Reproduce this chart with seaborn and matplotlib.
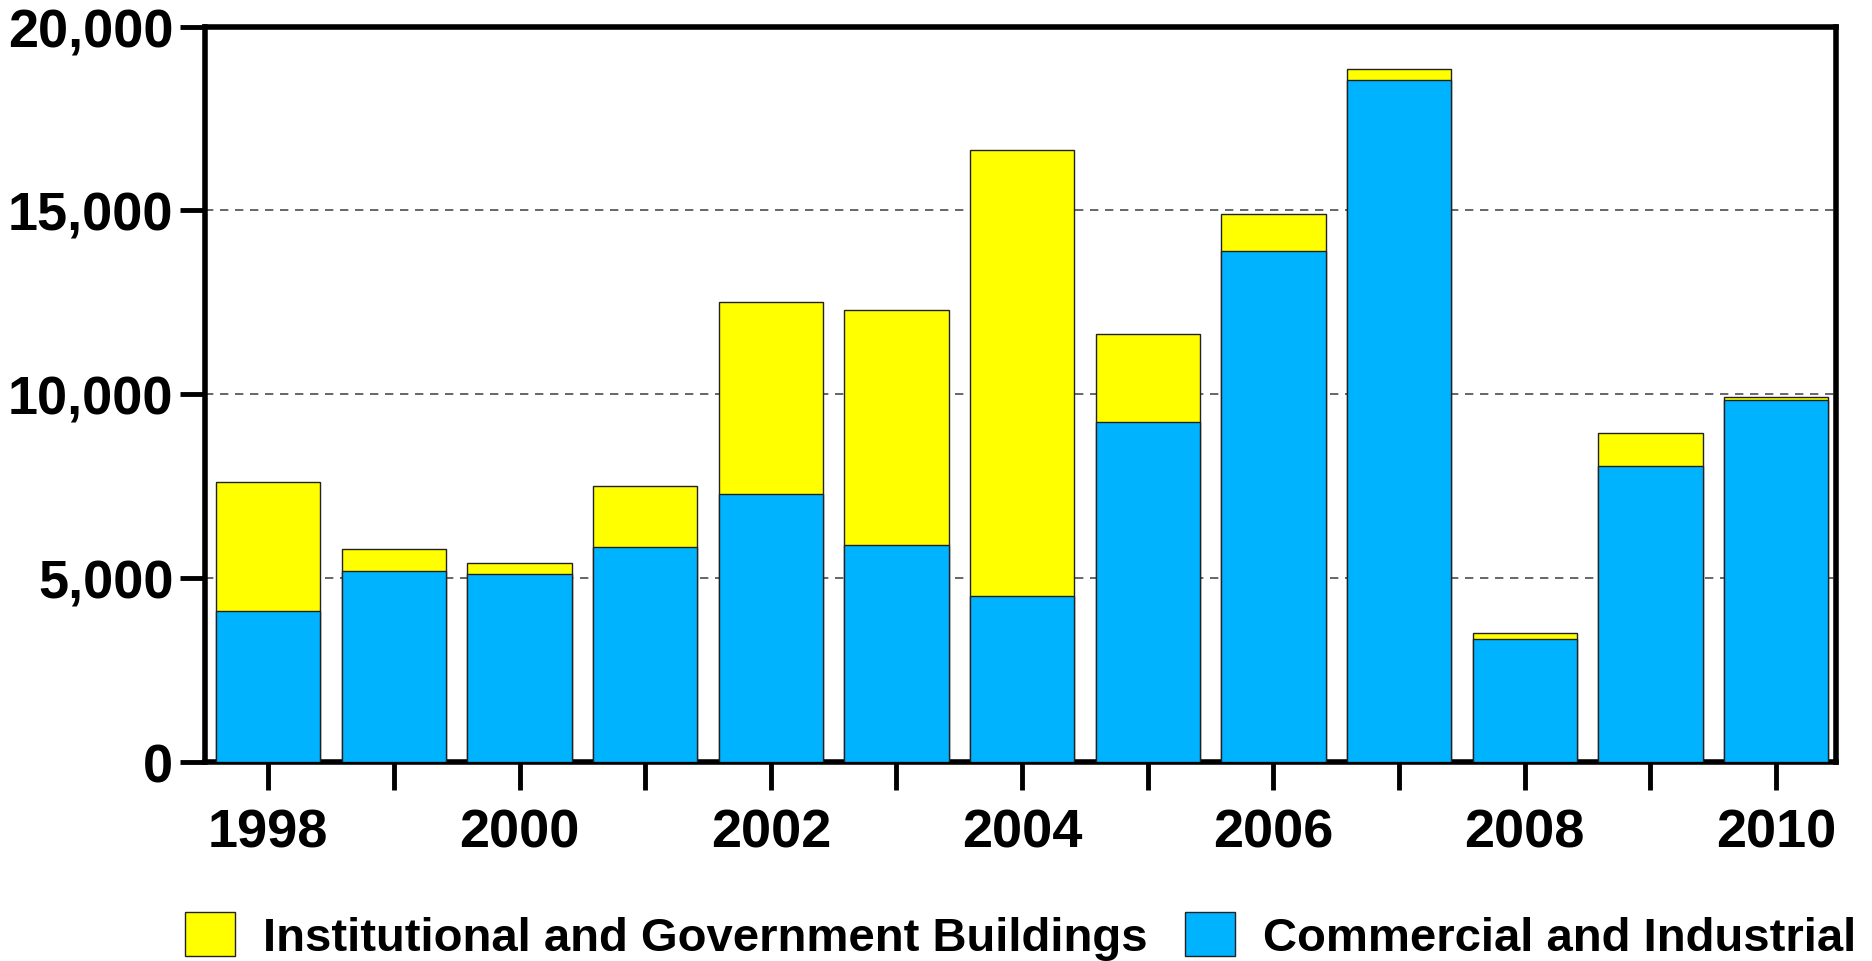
import matplotlib
matplotlib.use('Agg')
import matplotlib.pyplot as plt
import matplotlib.ticker as mticker
from matplotlib.patches import Patch
import numpy as np
import pandas as pd
import seaborn as sns

years = [1998, 1999, 2000, 2001, 2002, 2003, 2004,
         2005, 2006, 2007, 2008, 2009, 2010]
commercial = [4100, 5200, 5100, 5850, 7300, 5900, 4500,
              9250, 13900, 18550, 3350, 8050, 9850]
institutional = [3500, 600, 300, 1650, 5200, 6400, 12150,
                 2400, 1000, 300, 150, 900, 70]
year_labels = [str(y) if y % 2 == 0 else '' for y in years]

YELLOW = '#FFFF00'
BLUE = '#00B3FF'

df = pd.DataFrame({'Year': [str(y) for y in years],
                   'Commercial': commercial,
                   'Institutional': institutional})
df['Total'] = df['Commercial'] + df['Institutional']

sns.set_style('white')
plt.rcParams['font.family'] = ['Liberation Sans', 'DejaVu Sans']
plt.rcParams['font.weight'] = 'bold'
plt.rcParams['text.color'] = 'black'
plt.rcParams['xtick.color'] = 'black'
plt.rcParams['ytick.color'] = 'black'
plt.rcParams['axes.labelcolor'] = 'black'

fig, ax = plt.subplots(figsize=(18.72, 9.62), dpi=100)
fig.subplots_adjust(left=0.1097, right=0.981, top=0.9714, bottom=0.2069)

# stacked bars: total (yellow) underneath, commercial (blue) on top
sns.barplot(data=df, x='Year', y='Total', color=YELLOW, saturation=1,
            width=0.83, edgecolor='#222222', linewidth=1, ax=ax, zorder=2)
sns.barplot(data=df, x='Year', y='Commercial', color=BLUE, saturation=1,
            width=0.83, edgecolor='#222222', linewidth=1, ax=ax, zorder=3)

ax.set_xlim(-0.5, 12.48)
ax.set_ylim(0, 20000)
ax.set_yticks(np.arange(0, 20001, 5000))
ax.yaxis.set_major_formatter(mticker.StrMethodFormatter('{x:,.0f}'))
ax.set_xticks(range(len(years)))
ax.set_xticklabels(year_labels)
ax.set_xlabel('')
ax.set_ylabel('')

for y in [5000, 10000, 15000]:
    ax.axhline(y, color='#4d4d4d', linestyle=(0, (5, 4)), linewidth=1.2, zorder=1)

for s in ax.spines.values():
    s.set_visible(True)
    s.set_color('black')
    s.set_linewidth(4)

ax.tick_params(axis='y', direction='out', length=18, width=3.5, pad=5,
               labelsize=39, left=True, colors='black')
ax.tick_params(axis='x', direction='out', length=20, width=3.5, pad=13,
               labelsize=39, bottom=True, colors='black')
for lbl in ax.get_xticklabels() + ax.get_yticklabels():
    lbl.set_fontweight('bold')

handles = [Patch(facecolor=YELLOW, edgecolor='#222222', linewidth=1),
           Patch(facecolor=BLUE, edgecolor='#222222', linewidth=1)]
ax.legend(handles, ['Institutional and Government Buildings',
                    'Commercial and Industrial'],
          loc='center', bbox_to_anchor=(0.5, -0.237), ncol=2, frameon=False,
          prop={'size': 34, 'weight': 'bold'}, handlelength=1.05,
          handleheight=1.05, handletextpad=0.6, columnspacing=0.8,
          labelcolor='black')

plt.savefig('out.png', dpi=100)
plt.close()
